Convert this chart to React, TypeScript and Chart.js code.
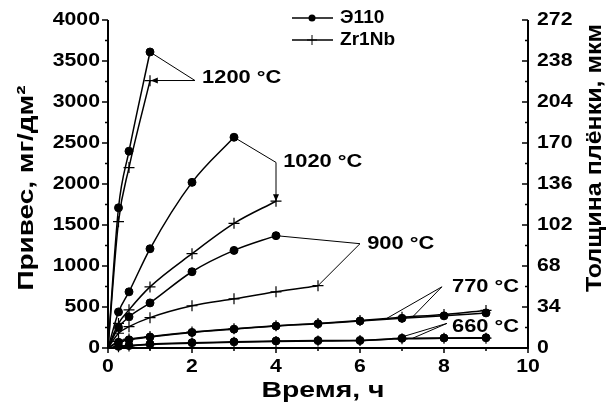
import React, { useEffect, useRef } from 'react';
import { Chart, registerables } from 'chart.js';

Chart.register(...registerables);

// ---- labels ----
const seriesNames = ['Э110', 'Zr1Nb'];
const tempLabels = ['1200 °C', '1020 °C', '900 °C', '770 °C', '660 °C'];
const leftTicks = [0, 500, 1000, 1500, 2000, 2500, 3000, 3500, 4000];
const rightTicks = [0, 34, 68, 102, 136, 170, 204, 238, 272];
const xTicks = [0, 2, 4, 6, 8, 10];
const xTitle = 'Время, ч';
const yTitle = 'Привес, мг/дм²';
const y1Title = 'Толщина плёнки, мкм';

// ---- data (time, h / weight gain, mg/dm²) ----
const t1200E = [0, 0.25, 0.5, 1];
const w1200E = [0, 1710, 2400, 3610];
const t1200Z = [0, 0.25, 0.5, 1];
const w1200Z = [0, 1540, 2200, 3260];

const t1020E = [0, 0.25, 0.5, 1, 2, 3];
const w1020E = [0, 440, 685, 1210, 2020, 2570];
const t1020Z = [0, 0.25, 0.5, 1, 2, 3, 4];
const w1020Z = [0, 300, 465, 745, 1150, 1520, 1790];

const t900E = [0, 0.25, 0.5, 1, 2, 3, 4];
const w900E = [0, 250, 380, 550, 930, 1190, 1370];
const t900Z = [0, 0.25, 0.5, 1, 2, 3, 4, 5];
const w900Z = [0, 180, 260, 370, 515, 600, 685, 760];

const t770E = [0, 0.25, 0.5, 1, 2, 3, 4, 5, 6, 7, 8, 9];
const w770E = [0, 70, 100, 135, 190, 230, 268, 295, 330, 362, 392, 428];
const t770Z = [0, 0.25, 0.5, 1, 2, 3, 4, 5, 6, 7, 8, 9];
const w770Z = [0, 80, 110, 140, 195, 235, 272, 300, 335, 375, 408, 458];

const t660E = [0, 0.25, 0.5, 1, 2, 3, 4, 5, 6, 7, 8, 9];
const w660E = [0, 20, 30, 50, 65, 75, 86, 90, 92, 118, 122, 125];
const t660Z = [0, 0.25, 0.5, 1, 2, 3, 4, 5, 6, 7, 8, 9];
const w660Z = [0, 15, 25, 42, 58, 70, 80, 86, 90, 112, 118, 120];

const seriesE = [
  [t1200E, w1200E],
  [t1020E, w1020E],
  [t900E, w900E],
  [t770E, w770E],
  [t660E, w660E],
];
const seriesZ = [
  [t1200Z, w1200Z],
  [t1020Z, w1020Z],
  [t900Z, w900Z],
  [t770Z, w770Z],
  [t660Z, w660Z],
];

// annotation leader lines (in data coordinates)
const annotations = [
  { text: tempLabels[0], textAt: [2.24, 3300], hub: [2.07, 3262], targets: [[1, 3610, 0], [1.02, 3262, 1]] },
  { text: tempLabels[1], textAt: [4.17, 2270], hub: [4.0, 2263], targets: [[3, 2570, 0], [4, 1790, 1]] },
  { text: tempLabels[2], textAt: [6.17, 1272], hub: [6.0, 1272], targets: [[4, 1370, 0], [5, 760, 0]] },
  { text: tempLabels[3], textAt: [8.19, 746], hub: [7.95, 746], targets: [[6.6, 350, 0], [7.25, 378, 0]] },
  { text: tempLabels[4], textAt: [8.19, 257], hub: [8.07, 300], targets: [[6.85, 112, 0], [7.25, 118, 0]] },
];

const FONT = '"Liberation Sans", Arial, sans-serif';

function drawText(
  ctx: CanvasRenderingContext2D,
  text: string,
  x: number,
  y: number,
  size: number,
  align: CanvasTextAlign,
  opts: { sx?: number; width?: number; rot?: number } = {}
) {
  ctx.save();
  ctx.translate(x, y);
  if (opts.rot) ctx.rotate(opts.rot);
  ctx.font = `bold ${size}px ${FONT}`;
  let s = opts.sx ?? 1;
  if (opts.width) s = opts.width / ctx.measureText(text).width;
  ctx.scale(s, 1);
  ctx.textAlign = align;
  ctx.textBaseline = 'middle';
  ctx.fillStyle = '#000';
  ctx.fillText(text, 0, 0);
  ctx.restore();
}

const decorPlugin = {
  id: 'decor',
  afterDraw(chart: any) {
    const ctx: CanvasRenderingContext2D = chart.ctx;
    const xs = chart.scales.x;
    const ys = chart.scales.y;
    const y1 = chart.scales.y1;
    const { left, right, top, bottom } = chart.chartArea;
    ctx.save();
    ctx.strokeStyle = '#000';
    ctx.fillStyle = '#000';

    // axis lines
    ctx.lineWidth = 2;
    ctx.beginPath();
    ctx.moveTo(left, top);
    ctx.lineTo(left, bottom);
    ctx.lineTo(right, bottom);
    ctx.lineTo(right, top);
    ctx.stroke();

    // ticks
    ctx.lineWidth = 1.5;
    ctx.beginPath();
    for (let v = 0; v <= 4000; v += 250) {
      const py = ys.getPixelForValue(v);
      const len = v % 500 === 0 ? 6 : 3;
      ctx.moveTo(left - len, py);
      ctx.lineTo(left, py);
    }
    for (let v = 0; v <= 272; v += 17) {
      const py = y1.getPixelForValue(v);
      const len = v % 34 === 0 ? 6 : 3;
      ctx.moveTo(right - len, py);
      ctx.lineTo(right, py);
    }
    for (let v = 0; v <= 10; v += 1) {
      const px = xs.getPixelForValue(v);
      const len = v % 2 === 0 ? 5 : 3;
      ctx.moveTo(px, bottom);
      ctx.lineTo(px, bottom + len);
    }
    ctx.stroke();

    // tick labels
    leftTicks.forEach((v) => drawText(ctx, String(v), left - 8, ys.getPixelForValue(v), 18, 'right', { sx: 1.18 }));
    rightTicks.forEach((v) => drawText(ctx, String(v), right + 9, y1.getPixelForValue(v), 18, 'left', { sx: 1.18 }));
    xTicks.forEach((v) => drawText(ctx, String(v), xs.getPixelForValue(v), bottom + 19, 18, 'center', { sx: 1.18 }));

    // axis titles
    drawText(ctx, xTitle, 323, 391, 22, 'center', { width: 123 });
    drawText(ctx, yTitle, 27, 188, 22, 'center', { width: 205, rot: -Math.PI / 2 });
    drawText(ctx, y1Title, 595, 158, 22, 'center', { width: 268, rot: -Math.PI / 2 });

    // legend
    const legY = [18, 40];
    seriesNames.forEach((name, i) => {
      const ly = legY[i];
      ctx.lineWidth = 1.5;
      ctx.beginPath();
      ctx.moveTo(292, ly);
      ctx.lineTo(333, ly);
      ctx.stroke();
      if (i === 0) {
        ctx.beginPath();
        ctx.arc(312, ly, 3.5, 0, Math.PI * 2);
        ctx.fill();
      } else {
        ctx.lineWidth = 1;
        ctx.beginPath();
        ctx.moveTo(312, ly - 5);
        ctx.lineTo(312, ly + 5);
        ctx.moveTo(307, ly);
        ctx.lineTo(317, ly);
        ctx.stroke();
      }
      drawText(ctx, name, 340, ly, 18, 'left', { sx: 1.06 });
    });

    // annotations
    ctx.lineWidth = 1;
    annotations.forEach((a) => {
      const hx = xs.getPixelForValue(a.hub[0]);
      const hy = ys.getPixelForValue(a.hub[1]);
      a.targets.forEach((t) => {
        const tx = xs.getPixelForValue(t[0]);
        const ty = ys.getPixelForValue(t[1]);
        ctx.beginPath();
        ctx.moveTo(hx, hy);
        ctx.lineTo(tx, ty);
        ctx.stroke();
        if (t[2]) {
          const ang = Math.atan2(ty - hy, tx - hx);
          const L = 7;
          const W = 3;
          ctx.beginPath();
          ctx.moveTo(tx, ty);
          ctx.lineTo(tx - L * Math.cos(ang) + W * Math.sin(ang), ty - L * Math.sin(ang) - W * Math.cos(ang));
          ctx.lineTo(tx - L * Math.cos(ang) - W * Math.sin(ang), ty - L * Math.sin(ang) + W * Math.cos(ang));
          ctx.closePath();
          ctx.fill();
        }
      });
      drawText(ctx, a.text, xs.getPixelForValue(a.textAt[0]), ys.getPixelForValue(a.textAt[1]), 19, 'left', { sx: 1.15 });
    });

    ctx.restore();
  },
};

export default function App() {
  const ref = useRef<HTMLCanvasElement | null>(null);
  useEffect(() => {
    if (!ref.current) return;
    const mk = (pair: number[][], marker: string) => ({
      data: pair[0].map((x, i) => ({ x, y: pair[1][i] })),
      borderColor: '#000',
      backgroundColor: '#000',
      borderWidth: 1.5,
      pointStyle: marker,
      pointRadius: (c: any) => (c.dataIndex === 0 ? 0 : marker === 'circle' ? 4 : 5.5),
      pointBorderWidth: marker === 'circle' ? 1 : 1.2,
      pointBackgroundColor: '#000',
      pointBorderColor: '#000',
      cubicInterpolationMode: 'monotone',
      fill: false,
    });
    const datasets = [
      ...seriesE.map((p) => mk(p, 'circle')),
      ...seriesZ.map((p) => mk(p, 'cross')),
    ];
    const chart = new Chart(ref.current, {
      type: 'line',
      data: { datasets: datasets as any },
      options: {
        animation: false,
        responsive: false,
        clip: false as any,
        layout: { padding: { top: 20, left: 0, right: 0, bottom: 0 } },
        plugins: { legend: { display: false }, tooltip: { enabled: false } },
        scales: {
          x: {
            type: 'linear',
            min: 0,
            max: 10,
            grid: { display: false },
            border: { display: false },
            ticks: { display: false },
            afterFit: (s: any) => { s.height = 58; },
          },
          y: {
            type: 'linear',
            position: 'left',
            min: 0,
            max: 4000,
            grid: { display: false },
            border: { display: false },
            ticks: { display: false },
            afterFit: (s: any) => { s.width = 108; },
          },
          y1: {
            type: 'linear',
            position: 'right',
            display: true,
            min: 0,
            max: 272,
            grid: { display: false },
            border: { display: false },
            ticks: { display: false },
            afterFit: (s: any) => { s.width = 79; },
          },
        },
      } as any,
      plugins: [decorPlugin],
    });
    return () => chart.destroy();
  }, []);
  return (
    <div style={{ position: 'fixed', left: 0, top: 0, width: 607, height: 406, background: '#fff' }}>
      <canvas ref={ref} width={607} height={406} />
    </div>
  );
}
